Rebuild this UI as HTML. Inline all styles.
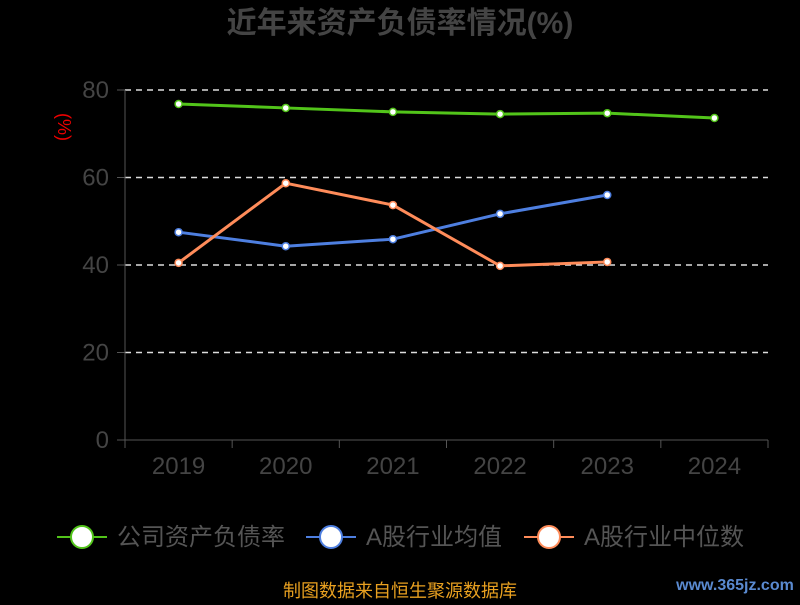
<!DOCTYPE html>
<html><head><meta charset="utf-8"><style>
body{margin:0;background:#000;width:800px;height:600px;overflow:hidden;font-family:"Liberation Sans","Noto Sans CJK SC",sans-serif}
</style></head><body>
<svg id="c" width="800" height="600" xmlns="http://www.w3.org/2000/svg">
<text x="400" y="33" text-anchor="middle" font-size="30" font-weight="bold" fill="#444" font-family="Liberation Sans,Noto Sans CJK SC,sans-serif">近年来资产负债率情况(%)</text>
<text transform="translate(58,127) rotate(90)" text-anchor="middle" font-size="18" fill="#e00">(%)</text>
<g id="grid"></g><g id="axes"></g><g id="series"></g>
<g font-size="24" fill="#555" font-family="Liberation Sans,Noto Sans CJK SC,sans-serif">
<g><line x1="57" y1="537" x2="107" y2="537" stroke="#52c41a" stroke-width="2"/><circle cx="82" cy="537" r="11" fill="#fff" stroke="#52c41a" stroke-width="2"/><text x="117" y="545">公司资产负债率</text></g>
<g><line x1="306" y1="537" x2="356" y2="537" stroke="#4e7fe0" stroke-width="2"/><circle cx="331" cy="537" r="11" fill="#fff" stroke="#4e7fe0" stroke-width="2"/><text x="366" y="545">A股行业均值</text></g>
<g><line x1="524" y1="537" x2="574" y2="537" stroke="#ff8c5a" stroke-width="2"/><circle cx="549" cy="537" r="11" fill="#fff" stroke="#ff8c5a" stroke-width="2"/><text x="584" y="545">A股行业中位数</text></g>
</g>
<text x="400" y="597" text-anchor="middle" font-size="18" fill="#e8a020">制图数据来自恒生聚源数据库</text>
<text x="735" y="590" text-anchor="middle" font-size="16" font-weight="bold" fill="#5a8ad0">www.365jz.com</text>
</svg>
<script>
const categories=["2019","2020","2021","2022","2023","2024"];
const companyValues=[76.8,75.9,75.0,74.5,74.7,73.6];
const avgValues=[47.5,44.3,45.9,51.7,56.0];
const medianValues=[40.5,58.7,53.7,39.8,40.7];
const yTicks=[0,20,40,60,80];
const NS="http://www.w3.org/2000/svg";
const x0=125,x1=768,yBase=440,yTop=90,yMax=80;
const bw=(x1-x0)/categories.length;
const xs=i=>x0+bw*(i+0.5);
const ys=v=>yBase-(v/yMax)*(yBase-yTop);
function mk(tag,attrs,parent){const e=document.createElementNS(NS,tag);for(const k in attrs)e.setAttribute(k,attrs[k]);parent.appendChild(e);return e;}
const grid=document.getElementById('grid'),axes=document.getElementById('axes'),ser=document.getElementById('series');
yTicks.forEach(t=>{
  if(t>0){const l=mk('line',{x1:x0,x2:x1,y1:ys(t),y2:ys(t),stroke:'#ddd','stroke-dasharray':'6,5','stroke-width':1.5},grid);
  
  }
  mk('line',{x1:x0-8,x2:x0,y1:ys(t),y2:ys(t),stroke:'#555'},axes);
  const tx=mk('text',{x:x0-16,y:ys(t)+8,'text-anchor':'end','font-size':24,fill:'#444'},axes);tx.textContent=t;
  
  
});
mk('line',{x1:x0,x2:x0,y1:yTop,y2:yBase,stroke:'#555'},axes);
mk('line',{x1:x0,x2:x1,y1:yBase,y2:yBase,stroke:'#555'},axes);
for(let i=0;i<=categories.length;i++)mk('line',{x1:x0+bw*i,x2:x0+bw*i,y1:yBase,y2:yBase+8,stroke:'#555'},axes);
categories.forEach((c,i)=>{const t=mk('text',{x:xs(i),y:yBase+34,'text-anchor':'middle','font-size':24,fill:'#444'},axes);t.textContent=c;
  
  });
function series(vals,color,name){
  const g=mk('g',{},ser);
  
  
  const p=mk('polyline',{points:vals.map((v,i)=>xs(i)+','+ys(v)).join(' '),fill:'none',stroke:color,'stroke-width':3},g);
  
  
  vals.forEach((v,i)=>{const c=mk('circle',{cx:xs(i),cy:ys(v),r:3.5,fill:'#fff',stroke:color,'stroke-width':1.5},g);
    
    });
}
series(avgValues,'#4e7fe0','industry-average-series');
series(medianValues,'#ff8c5a','industry-median-series');
series(companyValues,'#52c41a','company-series');
</script>
</body></html>
